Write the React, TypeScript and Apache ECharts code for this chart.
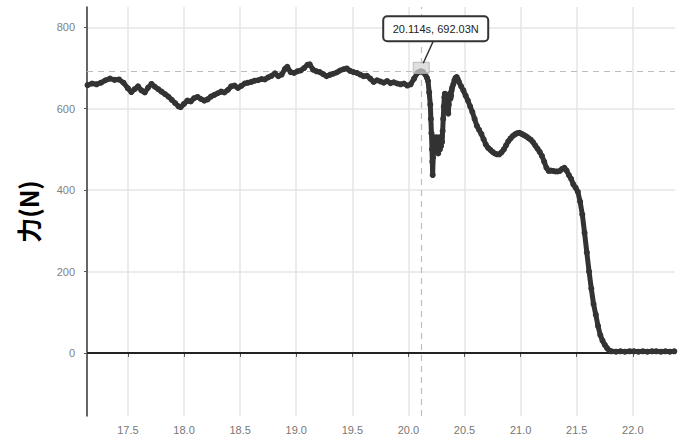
import React, { useEffect, useRef } from "react";
import * as echarts from "echarts";

// time (s)
const times = [
  17.14, 17.18, 17.22, 17.26, 17.30, 17.34, 17.38, 17.42, 17.46, 17.50,
  17.53, 17.56, 17.59, 17.62, 17.65, 17.68, 17.71, 17.74, 17.77, 17.80,
  17.83, 17.86, 17.89, 17.92, 17.95, 17.97, 18.00, 18.03, 18.06, 18.09,
  18.12, 18.15, 18.18, 18.21, 18.24, 18.27, 18.30, 18.33, 18.36, 18.39,
  18.42, 18.45, 18.48, 18.51, 18.54, 18.57, 18.60, 18.63, 18.66, 18.69,
  18.72, 18.75, 18.78, 18.81, 18.84, 18.87, 18.90, 18.92, 18.95, 18.98,
  19.01, 19.04, 19.07, 19.10, 19.12, 19.15, 19.18, 19.21, 19.24, 19.27,
  19.30, 19.33, 19.36, 19.39, 19.42, 19.45, 19.48, 19.51, 19.54, 19.57,
  19.60, 19.63, 19.66, 19.69, 19.72, 19.75, 19.78, 19.81, 19.84, 19.87,
  19.90, 19.93, 19.96, 19.99, 20.02, 20.05, 20.08, 20.10, 20.114, 20.13,
  20.15, 20.165, 20.175, 20.185, 20.195, 20.20, 20.205, 20.21, 20.213, 20.216,
  20.22, 20.225, 20.23, 20.235, 20.24, 20.245, 20.25, 20.255, 20.26, 20.265,
  20.27, 20.275, 20.28, 20.285, 20.29, 20.295, 20.30, 20.305, 20.31, 20.315,
  20.32, 20.325, 20.33, 20.335, 20.34, 20.345, 20.35, 20.355, 20.36, 20.365,
  20.37, 20.375, 20.38, 20.385, 20.39, 20.40, 20.41, 20.42, 20.43, 20.44,
  20.45, 20.47, 20.49, 20.51, 20.53, 20.55, 20.57, 20.59, 20.61, 20.63,
  20.65, 20.67, 20.69, 20.71, 20.73, 20.75, 20.77, 20.79, 20.81, 20.83,
  20.85, 20.87, 20.89, 20.91, 20.93, 20.95, 20.97, 20.99, 21.01, 21.03,
  21.05, 21.07, 21.09, 21.11, 21.13, 21.15, 21.17, 21.19, 21.21, 21.23,
  21.25, 21.27, 21.29, 21.31, 21.33, 21.35, 21.37, 21.39, 21.41, 21.43,
  21.45, 21.47, 21.49, 21.51, 21.53, 21.55, 21.57, 21.59, 21.61, 21.63,
  21.65, 21.67, 21.69, 21.71, 21.73, 21.75, 21.77, 21.79, 21.81, 21.85,
  21.89, 21.93, 21.97, 22.01, 22.05, 22.09, 22.13, 22.17, 22.21, 22.25,
  22.29, 22.33, 22.37,
];

// force (N)
const forces = [
  658, 662, 660, 664, 670, 674, 671, 672, 664, 650,
  641, 648, 655, 645, 640, 652, 661, 654, 648, 642,
  636, 630, 622, 614, 606, 604, 612, 620, 618, 626,
  629, 624, 620, 623, 630, 634, 638, 642, 640, 646,
  655, 657, 651, 656, 662, 664, 666, 669, 670, 673,
  672, 677, 681, 687, 680, 684, 698, 703, 690, 688,
  692, 694, 700, 708, 709, 696, 692, 690, 685, 680,
  683, 686, 689, 694, 697, 699, 693, 690, 688, 684,
  680, 681, 674, 666, 670, 667, 664, 668, 663, 665,
  662, 660, 662, 657, 660, 674, 688, 691, 692.03, 690,
  684, 676, 668, 640, 610, 575, 540, 500, 470, 437,
  480, 520, 530, 510, 525, 495, 530, 505, 520, 490,
  515, 530, 500, 522, 508, 530, 518, 545, 575, 605,
  628, 637, 630, 612, 618, 600, 595, 588, 610, 630,
  637, 625, 632, 645, 652, 660, 670, 676, 678, 672,
  666, 655, 645, 632, 620, 606, 592, 575, 558, 548,
  538, 525, 512, 504, 499, 494, 490, 488, 488, 493,
  500, 510, 520, 527, 533, 537, 540, 541, 538, 535,
  532, 528, 524, 518, 510, 502, 494, 484, 470, 455,
  447, 448, 447, 446, 446, 447, 452, 455, 448, 437,
  428, 414, 406, 396, 372, 340, 295, 247, 200, 158,
  120, 94, 66, 44, 30, 20, 12, 6, 4, 3,
  4, 3, 4, 4, 3, 4, 3, 4, 4, 3,
  4, 3, 4,
];

const xTicks = [17.5, 18.0, 18.5, 19.0, 19.5, 20.0, 20.5, 21.0, 21.5, 22.0];
const yTicks = [0, 200, 400, 600, 800];

const cursorTime = 20.114;
const cursorForce = 692.03;
const cursorLabel = "20.114s, 692.03N";
const yName = "力(N)";

export default function App() {
  const ref = useRef<HTMLDivElement>(null);
  useEffect(() => {
    document.body.style.margin = "0";
    if (!ref.current) return;
    const chart = echarts.init(ref.current, undefined, { renderer: "svg" });
    const data = times.map((t, i) => [t, forces[i]]);
    const font = "'Liberation Sans', Arial, Helvetica, sans-serif";
    chart.setOption({
      animation: false,
      grid: { left: 87, right: 8, top: 7, bottom: 20 },
      xAxis: {
        type: "value",
        min: 17.135,
        max: 22.376,
        axisLine: { show: true, lineStyle: { color: "#b5b5b5", width: 1.5 } },
        axisTick: {
          show: true,
          customValues: xTicks,
          length: 4,
          lineStyle: { color: "#555", width: 1 },
        },
        axisLabel: {
          customValues: xTicks,
          formatter: (v: number) => v.toFixed(1),
          color: "#777",
          fontSize: 11,
          fontFamily: font,
          margin: 8,
        },
        splitLine: { show: true, lineStyle: { color: "#e6e6e6", width: 1.5 } },
      },
      yAxis: {
        type: "value",
        min: -155,
        max: 850,
        name: yName,
        nameLocation: "middle",
        nameGap: 47,
        nameTextStyle: {
          fontSize: 25,
          color: "#000",
          fontWeight: "bold",
          fontFamily: "'Noto Sans CJK SC', sans-serif",
        },
        axisLine: { show: true, lineStyle: { color: "#333", width: 1.5 } },
        axisTick: {
          show: true,
          customValues: yTicks,
          length: 3,
          lineStyle: { color: "#555" },
        },
        axisLabel: {
          customValues: yTicks,
          color: "#808080",
          fontSize: 11,
          fontFamily: font,
          margin: 12,
        },
        splitLine: { show: true, lineStyle: { color: "#e6e6e6", width: 1.5 } },
      },
      series: [
        {
          type: "line",
          data,
          symbol: "circle",
          symbolSize: 6,
          showAllSymbol: true,
          itemStyle: { color: "#333" },
          lineStyle: { color: "#333", width: 5, join: "round", cap: "round" },
          z: 5,
          markLine: {
            silent: true,
            symbol: "none",
            label: { show: false },
            data: [
              { yAxis: 0, lineStyle: { color: "#222", width: 2, type: "solid" } },
              { xAxis: cursorTime, lineStyle: { color: "#bdbdbd", width: 1.2, type: [6, 5] } },
              { yAxis: cursorForce, lineStyle: { color: "#bdbdbd", width: 1.2, type: [6, 5] } },
            ],
          },
        },
      ],
    });
    const p = chart.convertToPixel({ gridIndex: 0 }, [cursorTime, cursorForce]) as number[];
    chart.setOption({
      graphic: [
        {
          type: "rect",
          shape: { x: p[0] - 8, y: p[1] - 9, width: 16, height: 11 },
          style: { fill: "rgba(210,210,210,0.7)", stroke: "#bbb", lineWidth: 1 },
          z: 10,
        },
        {
          type: "line",
          shape: { x1: p[0] + 12, y1: p[1] - 30, x2: p[0] + 2, y2: p[1] - 8 },
          style: { stroke: "#333", lineWidth: 1.5 },
          z: 10,
        },
        {
          type: "rect",
          shape: { x: p[0] - 38, y: p[1] - 55, width: 105, height: 25, r: 4 },
          style: { fill: "#fff", stroke: "#333", lineWidth: 2 },
          z: 11,
        },
        {
          type: "text",
          x: p[0] + 14.5,
          y: p[1] - 42.5,
          style: {
            text: cursorLabel,
            fill: "#222",
            fontSize: 11,
            fontFamily: font,
            align: "center",
            verticalAlign: "middle",
          },
          z: 12,
        },
      ],
    });
    return () => chart.dispose();
  }, []);
  return <div ref={ref} style={{ width: 683, height: 436 }} />;
}
